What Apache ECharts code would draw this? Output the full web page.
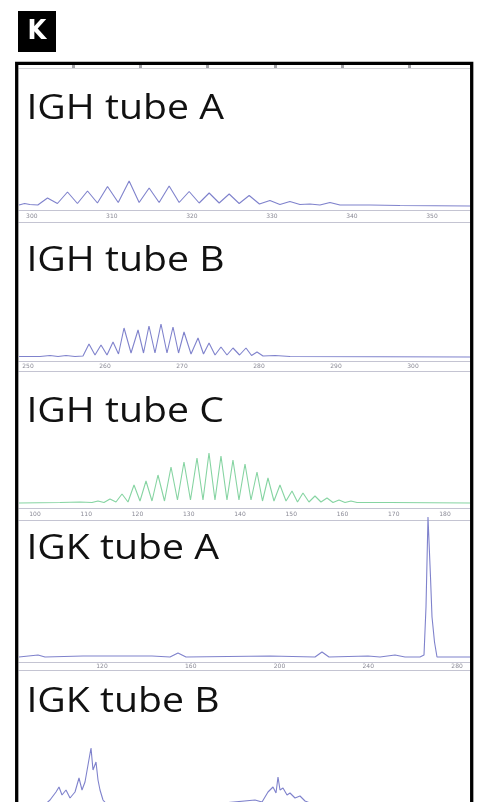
<!DOCTYPE html>
<html>
<head>
<meta charset="utf-8">
<script src="https://cdn.jsdelivr.net/npm/echarts@6/dist/echarts.min.js"></script>
<style>
html,body{margin:0;padding:0;background:#fff;}
#chart{width:481px;height:802px;}
</style>
</head>
<body>
<div id="chart"></div>
<script>
// ---- Data (fragment size in bp, fluorescence height) ----
const panelTitles = ['IGH tube A', 'IGH tube B', 'IGH tube C', 'IGK tube A', 'IGK tube B'];

const ighA_size = [298.4,299.1,299.75,300.75,301.96,303.2,304.46,305.7,306.96,308.2,309.46,310.8,312.16,313.41,314.66,315.91,317.16,318.41,319.66,320.91,322.16,323.41,324.66,325.91,327.16,328.44,329.75,331.0,332.25,333.5,334.75,336.0,337.25,338.5,342.25,346.0,354.75];
const ighA_rfu  = [0.5,2,1,0.5,7.5,2,13.5,2,14.5,2.5,19,3,24.5,3,17.5,3,19.5,3,14,2.5,12.5,2.5,11.5,2,10,1.5,5,1,4,1,1.5,0.5,3,0.5,0.5,0,-0.5];
const ighA_ticks = [300,310,320,330,340,350];

const ighB_size = [248.83,251.56,252.86,253.9,254.94,256.1,257.14,257.92,258.70,259.48,260.26,261.04,261.75,262.47,263.38,264.29,265.0,265.71,266.49,267.27,268.05,268.83,269.55,270.26,271.17,272.08,272.79,273.51,274.29,275.06,275.84,276.62,277.47,278.31,279.03,279.74,280.52,282.08,284.03,307.4];
const ighB_rfu  = [0.5,0.5,1.5,0.5,1.5,0.5,1,13,2,12,2,15,3,29,4,27,4,31,4,33,4,30,4,25,3,19,3,14,2,10,2,9,2,9,1.5,5,1,1.5,0.5,0];
const ighB_ticks = [250,260,270,280,290,300];

const ighC_size = [96.88,104.88,108.78,111.12,112.29,113.46,114.63,115.80,116.98,118.15,119.32,120.49,121.66,122.83,124.0,125.27,126.54,127.80,129.07,130.34,131.61,132.78,133.95,135.12,136.29,137.46,138.63,139.80,140.98,142.15,143.32,144.39,145.46,146.63,147.80,148.98,150.15,151.22,152.29,153.46,154.63,155.80,156.98,158.15,159.32,160.49,161.66,162.83,169.27,184.88];
const ighC_rfu  = [0,0.5,1,0.5,2,0.5,4,1,9,1,18,2,22,2,28,2,36,3,41,3,45,3,50,3,47,3,43,3,39,3,31,2,25,2,18,2,12,1,10,1,7,1,5,0.5,3,0.5,2,0.5,0.5,0];
const ighC_ticks = [100,110,120,130,140,150,160,170,180];

const igkA_size = [82.6,91.16,94.31,111.44,142.53,150.64,154.25,157.85,195.71,215.99,219.14,222.30,239.87,245.28,252.04,256.55,263.31,265.11,266.01,266.91,267.36,268.04,268.72,269.17,269.84,270.97,285.84];
const igkA_rfu  = [0,2,0,1,1,0,4,0,1,0,5,0,1,0,2,0,0,2,50,140,138,80,40,30,15,0,0];
const igkA_ticks = [120,160,200,240,280];

const igkB_size = [200,210.5,215.5,218.5,220,221.5,223.5,225.5,228,230,231.5,233,234.5,236,237,238.5,239.5,240.5,242,245.5,270.5,318,321.5,324.5,327,328.5,329.5,330.5,332,334,335.5,338,340.5,343,345.5,425.5];
const igkB_rfu  = [0,1,10,18,23,15,20,12,18,32,20,28,45,62,40,48,30,20,10,2,1,10,8,18,23,17,33,20,22,15,17,12,14,9,7,0];
const igkB_ticks = [250,300,350,400];

const topTicks = [1,2,3,4,5,6];

// ---- Layout ----
const W = 481, H = 802;
const X0 = 19, X1 = 470;
const blue = '#7f82cc', green = '#86d4a2', axisCol = '#c4c4d2', lblCol = '#8a8a96';

const panels = [
  {size: ighA_size, rfu: ighA_rfu, ticks: ighA_ticks, min: 298.4, max: 354.75, axisY: 210, base: 205.5, yMax: 40, lower: 12, color: blue, margin: 3},
  {size: ighB_size, rfu: ighB_rfu, ticks: ighB_ticks, min: 248.83, max: 307.4, axisY: 361, base: 357, yMax: 40, lower: 10, color: blue, margin: 2},
  {size: ighC_size, rfu: ighC_rfu, ticks: ighC_ticks, min: 96.88, max: 184.88, axisY: 508, base: 503, yMax: 60, lower: 12, color: green, margin: 3},
  {size: igkA_size, rfu: igkA_rfu, ticks: igkA_ticks, min: 82.6, max: 285.84, axisY: 662, base: 657, yMax: 145, lower: 8, color: blue, margin: 1},
  {size: igkB_size, rfu: igkB_rfu, ticks: igkB_ticks, min: 200, max: 425.5, axisY: 815, base: 810, yMax: 70, lower: 10, color: blue, margin: 2}
];
const titleCapTop = [100, 252, 403, 540, 693];

const grid = [], xAxis = [], yAxis = [], series = [];
// residual axis of the panel above (top strip)
grid.push({left: X0, right: W - X1, top: 58, height: 10, outerBoundsMode: 'none', containLabel: false});
xAxis.push({type: 'value', gridIndex: 0, min: 0.2, max: 6.9, axisLine: {show: true, lineStyle: {color: '#d4d4d8', width: 1}},
  axisTick: {show: true, inside: true, length: 3, customValues: topTicks, lineStyle: {color: '#a4a4a8', width: 3}},
  axisLabel: {show: false}, splitLine: {show: false}});
yAxis.push({type: 'value', gridIndex: 0, show: false, min: 0, max: 1});

panels.forEach((p, i) => {
  const gi = i + 1;
  grid.push({left: X0, right: W - X1, top: p.base - p.yMax, height: p.yMax + (p.axisY - p.base), outerBoundsMode: 'none', containLabel: false});
  xAxis.push({type: 'value', gridIndex: gi, min: p.min, max: p.max, position: 'bottom',
    axisLine: {show: true, onZero: false, lineStyle: {color: axisCol, width: 1}},
    axisTick: {show: false},
    axisLabel: {show: true, customValues: p.ticks, fontSize: 6, color: lblCol, margin: p.margin, fontFamily: 'DejaVu Sans'},
    splitLine: {show: false}});
  xAxis.push({type: 'value', gridIndex: gi, min: p.min, max: p.max, position: 'bottom', offset: p.lower,
    axisLine: {show: true, onZero: false, lineStyle: {color: axisCol, width: 1}},
    axisTick: {show: false}, axisLabel: {show: false}, splitLine: {show: false}});
  yAxis.push({type: 'value', gridIndex: gi, show: false, min: -(p.axisY - p.base), max: p.yMax});
  series.push({type: 'line', xAxisIndex: 1 + i * 2, yAxisIndex: gi, showSymbol: false, symbol: 'none',
    lineStyle: {color: p.color, width: 1.1}, itemStyle: {color: p.color},
    data: p.size.map((s, k) => [s, p.rfu[k]]), silent: true, z: 3});
});

const graphic = [
  {type: 'rect', shape: {x: 18, y: 11, width: 38, height: 41}, style: {fill: '#000'}},
  {type: 'text', x: 37, y: 32, style: {text: 'K', fill: '#fff', font: 'bold 27px "DejaVu Sans Condensed", "Liberation Sans Narrow", "DejaVu Sans"', align: 'center', verticalAlign: 'middle'}},
  {type: 'rect', shape: {x: 16.7, y: 63.3, width: 455, height: 800}, style: {fill: 'none', stroke: '#000', lineWidth: 3.3}, z: 10}
];
panelTitles.forEach((t, i) => {
  graphic.push({type: 'text', x: 30, y: titleCapTop[i] - 8, scaleX: 1.12, originX: 30,
    style: {text: t, fill: '#111', font: '35px "Open Sans", "Noto Sans", sans-serif', align: 'left', verticalAlign: 'top'}, z: 5});
});

const chart = echarts.init(document.getElementById('chart'), null, {width: W, height: H, renderer: 'canvas'});
chart.setOption({
  animation: false,
  backgroundColor: '#fff',
  grid, xAxis, yAxis, series, graphic
});
</script>
</body>
</html>
